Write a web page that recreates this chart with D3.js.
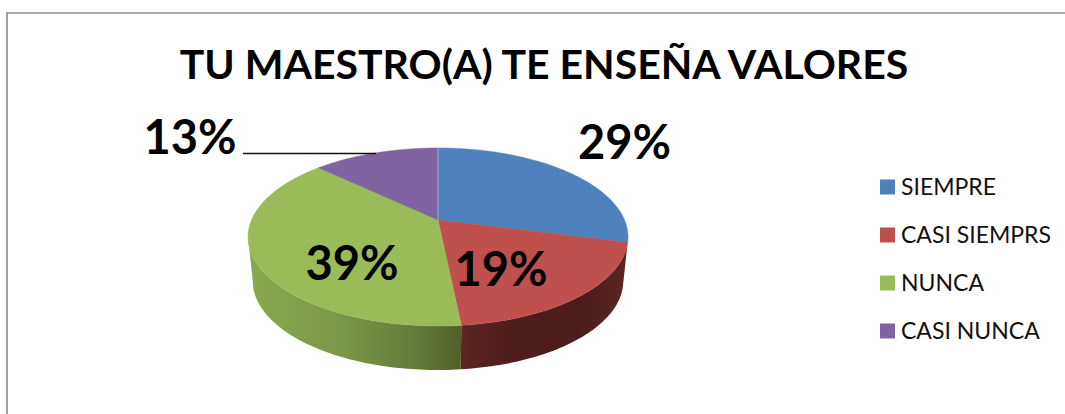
<!DOCTYPE html>
<html><head><meta charset="utf-8">
<script src="https://cdn.jsdelivr.net/npm/d3@7"></script>
<style>html,body{margin:0;background:#fff}svg{display:block}text{font-family:Lato,sans-serif}</style>
</head><body><div id="c"></div>
<script>
const title = "TU MAESTRO(A) TE ENSEÑA VALORES";
const categories = ["SIEMPRE","CASI SIEMPRS","NUNCA","CASI NUNCA"];
const counts = [9,6,12,4];
const colors = ["#4f81bd","#c0504d","#9bbb59","#8064a2"];
const labelPos = [[624.5,159],[501,286],[352,280],[190,154]];
const legendY = [187,235,283,331];

const W=1065,H=414;
const svg=d3.select("#c").append("svg").attr("width",W).attr("height",H);
const defs=svg.append("defs");
function grad(id,stops){
  const g=defs.append("linearGradient").attr("id",id).attr("x1","0%").attr("x2","100%").attr("y1","0%").attr("y2","0%");
  stops.forEach(s=>g.append("stop").attr("offset",s[0]).attr("stop-color",s[1]));
}
grad("wall1",[[0,"#5e2523"],[0.3,"#4e1e1d"],[0.7,"#4b1d1c"],[1,"#5a2725"]]);
grad("wall2",[[0,"#8ba94f"],[0.45,"#7a9648"],[0.75,"#667f3a"],[1,"#4f6029"]]);

// frame
svg.append("path").attr("d",`M7,${H}V13H${W}`).attr("fill","none").attr("stroke","#8c8c8c").attr("stroke-width",1.6);

// perspective disc
const cx=438,cy=220,k=0.191,a=186.5,b=85.75,depth=44,taper=0.975;
const project=t=>{const u=Math.sin(t),v=Math.cos(t),d=1+k*v;return [cx+a*u/d,cy-b*v/d];};
const pie=d3.pie().sort(null)(counts);
const rim=(s,e)=>{const n=Math.max(2,Math.ceil((e-s)/0.02));return d3.range(n+1).map(i=>project(s+(e-s)*i/n));};
const line=d3.line();
const tR=Math.acos(-k),tL=2*Math.PI-tR;

// walls
pie.forEach((p,i)=>{
  const s=Math.max(p.startAngle,tR),e=Math.min(p.endAngle,tL);
  if(e<=s||i===0)return;
  const top=rim(s,e),bot=top.map(q=>[cx+(q[0]-cx)*taper,q[1]+depth]).reverse();
  svg.append("path").attr("d",line(top.concat(bot))+"Z").attr("fill",`url(#wall${i})`);
});
// top
pie.forEach((p,i)=>{
  svg.append("path").attr("d",line([[cx,cy]].concat(rim(p.startAngle,p.endAngle)))+"Z")
    .attr("fill",colors[i]).attr("stroke",colors[i]).attr("stroke-width",0.5);
});
svg.append("line").attr("x1",cx).attr("x2",cx).attr("y1",cy).attr("y2",148).attr("stroke","#a9c0dd").attr("stroke-width",0.8);

// leader
svg.append("line").attr("x1",243).attr("x2",376).attr("y1",153.5).attr("y2",153.5).attr("stroke","#111").attr("stroke-width",1.5);

// title
svg.append("text").attr("x",544).attr("y",79).attr("text-anchor","middle").attr("font-weight",700).attr("font-size",41).attr("fill","#000").text(title);

// data labels
const fmt=d3.format(".0%"),total=d3.sum(counts);
counts.forEach((c,i)=>{
  svg.append("text").attr("x",labelPos[i][0]).attr("y",labelPos[i][1]).attr("text-anchor","middle")
   .attr("font-weight",700).attr("font-size",47).attr("fill","#000").text(fmt(c/total));
});

// legend
categories.forEach((c,i)=>{
  svg.append("rect").attr("x",880).attr("y",legendY[i]-7.5).attr("width",15).attr("height",15).attr("fill",colors[i]);
  svg.append("text").attr("x",901).attr("y",legendY[i]+8).attr("font-size",23).attr("fill","#111").text(c);
});
</script></body></html>
